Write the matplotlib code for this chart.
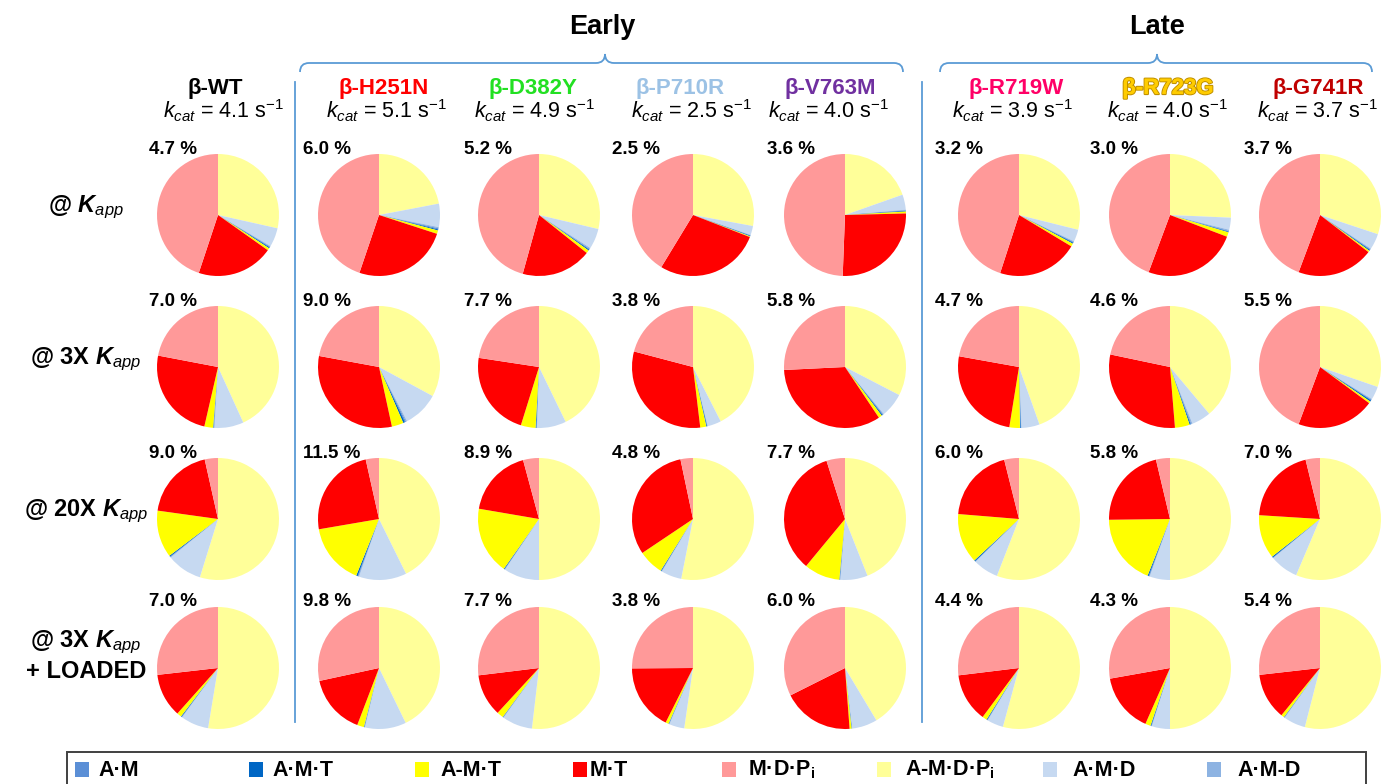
import matplotlib
matplotlib.use("Agg")
import matplotlib.pyplot as plt
from matplotlib.patches import Rectangle, PathPatch
from matplotlib.path import Path
import matplotlib.patheffects as pe

plt.rcParams["font.family"] = ["Liberation Sans", "DejaVu Sans"]
plt.rcParams["mathtext.fontset"] = "custom"
plt.rcParams["mathtext.rm"] = "Liberation Sans"
plt.rcParams["mathtext.it"] = "Liberation Sans:italic"
plt.rcParams["mathtext.bf"] = "Liberation Sans:bold"
plt.rcParams["mathtext.bfit"] = "Liberation Sans:bold:italic"

# ---------------- data ----------------
variants = ["β-WT", "β-H251N", "β-D382Y", "β-P710R",
            "β-V763M", "β-R719W", "β-R723G", "β-G741R"]
variant_colors = ["#000000", "#ff0000", "#22e022", "#9cc2e5",
                  "#7030a0", "#ff0066", "#ffcc00", "#c00000"]
kcat = [4.1, 5.1, 4.9, 2.5, 4.0, 3.9, 4.0, 3.7]

conditions = [r"@ $\mathbfit{K}_{\mathit{app}}$",
              r"@ 3X $\mathbfit{K}_{\mathit{app}}$",
              r"@ 20X $\mathbfit{K}_{\mathit{app}}$",
              r"@ 3X $\mathbfit{K}_{\mathit{app}}$" + "\n+ LOADED"]

# percentage shown above each pie (rows = conditions, cols = variants)
pct_labels = [[4.7, 6.0, 5.2, 2.5, 3.6, 3.2, 3.0, 3.7],
              [7.0, 9.0, 7.7, 3.8, 5.8, 4.7, 4.6, 5.5],
              [9.0, 11.5, 8.9, 4.8, 7.7, 6.0, 5.8, 7.0],
              [7.0, 9.8, 7.7, 3.8, 6.0, 4.4, 4.3, 5.4]]

# state populations (%), rows = conditions, cols = variants
a_m_d_pi = [[28.5, 22.0, 28.7, 27.9, 19.6, 28.9, 25.7, 30.1],
            [43.2, 32.9, 42.8, 42.5, 32.5, 44.6, 38.9, 30.3],
            [54.8, 42.7, 50.0, 53.1, 44.0, 55.9, 50.0, 56.4],
            [52.6, 42.8, 51.8, 52.3, 41.4, 54.2, 50.0, 54.0]]
a_m_d = [[5.0, 6.2, 5.4, 2.4, 4.0, 3.2, 3.2, 4.2],
         [7.7, 9.5, 7.7, 3.6, 6.4, 4.8, 5.1, 3.5],
         [9.3, 12.6, 9.4, 5.4, 7.2, 6.7, 5.4, 7.5],
         [7.4, 10.9, 8.0, 4.0, 6.7, 4.3, 4.8, 5.8]]
a_m_d2 = [[0.2, 0.3, 0.3, 0.1, 0.2, 0.2, 0.3, 0.2],
          [0.2, 0.3, 0.1, 0.1, 0.2, 0.1, 0.3, 0.2],
          [0.2, 0.2, 0.1, 0.1, 0.1, 0.1, 0.1, 0.1],
          [0.1, 0.1, 0.1, 0.1, 0.1, 0.1, 0.1, 0.1]]
a_m = [[0.2, 0.3, 0.2, 0.1, 0.1, 0.2, 0.2, 0.2],
       [0.1, 0.3, 0.1, 0.1, 0.2, 0.1, 0.2, 0.2],
       [0.1, 0.2, 0.1, 0.1, 0.1, 0.1, 0.2, 0.1],
       [0.1, 0.1, 0.1, 0.1, 0.0, 0.1, 0.1, 0.1]]
a_m_t = [[0.3, 0.3, 0.3, 0.2, 0.2, 0.3, 0.2, 0.3],
         [0.1, 0.5, 0.2, 0.2, 0.3, 0.2, 0.3, 0.4],
         [0.3, 0.4, 0.2, 0.2, 0.1, 0.3, 0.3, 0.3],
         [0.2, 0.1, 0.1, 0.1, 0.1, 0.2, 0.2, 0.1]]
a_m_t_weak = [[0.6, 0.9, 0.8, 0.2, 0.5, 0.8, 1.2, 0.4],
              [2.3, 3.1, 3.9, 1.6, 0.9, 2.8, 3.9, 0.5],
              [12.5, 16.2, 17.9, 6.7, 9.5, 13.2, 18.8, 11.6],
              [1.2, 1.8, 1.7, 0.8, 0.5, 1.2, 1.4, 0.8]]
m_t = [[20.3, 25.2, 18.6, 27.8, 26.0, 21.4, 24.9, 20.3],
       [24.4, 31.3, 22.6, 31.0, 33.5, 25.3, 29.6, 20.6],
       [19.3, 24.2, 18.1, 31.1, 34.1, 19.8, 21.5, 20.2],
       [11.6, 15.8, 11.2, 17.5, 18.8, 12.9, 15.6, 12.3]]
m_d_pi = [[44.9, 44.8, 45.7, 41.3, 49.4, 45.0, 44.3, 44.3],
          [22.0, 22.1, 22.6, 20.9, 25.7, 22.2, 21.7, 44.3],
          [3.5, 3.5, 4.2, 3.3, 4.9, 3.9, 3.7, 3.8],
          [26.8, 28.4, 26.9, 25.1, 32.4, 26.9, 27.8, 26.8]]

# legend order and colours
legend_labels = ["A·M", "A·M·T", "A-M·T", "M·T", "M·D·P$_\\mathregular{i}$",
                 "A-M·D·P$_\\mathregular{i}$", "A·M·D", "A·M-D"]
c_am, c_amt, c_amt_w, c_mt = "#5b8fd6", "#0066c4", "#ffff00", "#ff0000"
c_mdpi, c_amdpi, c_amd, c_amd2 = "#ff9999", "#ffff99", "#c6d9f1", "#8db3e2"
legend_colors = [c_am, c_amt, c_amt_w, c_mt, c_mdpi, c_amdpi, c_amd, c_amd2]

# ---------------- layout ----------------
W, H = 1388, 784
fig = plt.figure(figsize=(W / 100, H / 100), dpi=100)
ax = fig.add_axes([0, 0, 1, 1])


def Y(y):
    return H - y


col_x = [218, 379, 539, 693, 845, 1019, 1170, 1320]
row_y = [215, 367, 519, 668]
pct_x = [149, 303, 464, 612, 767, 935, 1090, 1244]
name_x = [215, 384, 533, 680, 830, 1016, 1168, 1318]
kcat_x = [224, 387, 535, 692, 829, 1013, 1168, 1318]
R = 61
line_blue = "#5b9bd5"

# pies: clockwise from 12 o'clock
slice_colors = [c_amdpi, c_amd, c_amd2, c_am, c_amt, c_amt_w, c_mt, c_mdpi]
for i, cy in enumerate(row_y):
    for j, cx in enumerate(col_x):
        vals = [a_m_d_pi[i][j], a_m_d[i][j], a_m_d2[i][j], a_m[i][j],
                a_m_t[i][j], a_m_t_weak[i][j], m_t[i][j], m_d_pi[i][j]]
        wedges, _ = ax.pie(vals, colors=slice_colors, startangle=90,
                           counterclock=False, center=(cx, Y(cy)), radius=R,
                           frame=True,
                           wedgeprops=dict(linewidth=0, edgecolor="none"))
        for w in wedges:
            w.set_zorder(3)
        ax.text(pct_x[j], Y(cy - 66), f"{pct_labels[i][j]:.1f} %",
                fontsize=13.5, fontweight="bold", ha="left", va="center",
                zorder=2)

ax.set_xlim(0, W)
ax.set_ylim(0, H)
ax.set_aspect("equal")
ax.axis("off")

# column headers
for j, name in enumerate(variants):
    t = ax.text(name_x[j], Y(94), name, fontsize=16, fontweight="bold",
                color=variant_colors[j], ha="center", va="baseline")
    if name == "β-R723G":
        t.set_path_effects([pe.withStroke(linewidth=1.6, foreground="#c09000"),
                            pe.Normal()])
    ax.text(kcat_x[j], Y(118), r"$k_{cat}$" + f" = {kcat[j]:.1f} s" + r"$^{-1}$",
            fontsize=15.5, ha="center", va="baseline")

# row labels
label_y = [207, 359, 511, 656]
for i, lab in enumerate(conditions):
    ax.text(86, Y(label_y[i]), lab, fontsize=17, fontweight="bold",
            ha="center", va="center", linespacing=1.25)

# group titles
ax.text(602, Y(27), "Early", fontsize=19.5, fontweight="bold",
        ha="center", va="center")
ax.text(1157, Y(27), "Late", fontsize=19.5, fontweight="bold",
        ha="center", va="center")


def brace(x0, x1, xc, y_end=72, y_mid=63, y_tip=54, r=9):
    verts = [(x0, y_end), (x0, y_mid), (x0 + r, y_mid),
             (xc - r, y_mid), (xc, y_mid), (xc, y_tip),
             (xc, y_mid), (xc + r, y_mid),
             (x1 - r, y_mid), (x1, y_mid), (x1, y_end)]
    codes = [Path.MOVETO, Path.CURVE3, Path.CURVE3,
             Path.LINETO, Path.CURVE3, Path.CURVE3,
             Path.CURVE3, Path.CURVE3,
             Path.LINETO, Path.CURVE3, Path.CURVE3]
    verts = [(x, Y(y)) for x, y in verts]
    ax.add_patch(PathPatch(Path(verts, codes), facecolor="none",
                           edgecolor=line_blue, lw=1.3))


brace(300, 903, 605)
brace(940, 1372, 1157)

# separators
for x in (295, 922):
    ax.plot([x, x], [Y(82), Y(722)], color=line_blue, lw=1.3)

# legend box
ax.add_patch(Rectangle((67, Y(800)), 1366 - 67, 800 - 752, facecolor="none",
                       edgecolor="#404040", lw=1.4, zorder=4))
sq_x = [75, 249, 415, 573, 722, 877, 1043, 1207]
txt_dx = [23, 23, 25, 17, 26, 28, 29, 30]
for k, lab in enumerate(legend_labels):
    ax.add_patch(Rectangle((sq_x[k], Y(777)), 14, 15,
                           facecolor=legend_colors[k], edgecolor="none", zorder=4))
    ax.text(sq_x[k] + txt_dx[k], Y(770), lab, fontsize=15.5, fontweight="bold",
            ha="left", va="center", zorder=4)

fig.savefig("out.png", dpi=100)
